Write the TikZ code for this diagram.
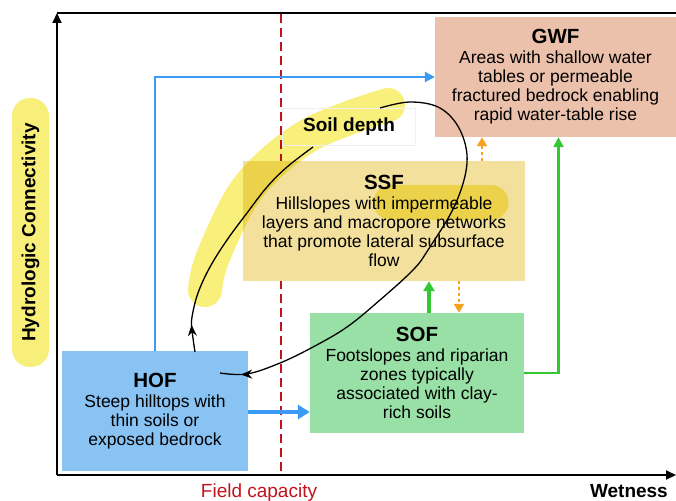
\documentclass[tikz,border=0pt]{standalone}
\usepackage{fontspec}
\setmainfont{Liberation Sans}
\usetikzlibrary{arrows.meta,decorations.markings,calc}
\definecolor{gwfc}{HTML}{EBC1AB}
\definecolor{ssfc}{HTML}{F2E09C}
\definecolor{sofc}{HTML}{98E0A5}
\definecolor{hofc}{HTML}{88C3F3}
\definecolor{blu}{HTML}{3A9AF4}
\definecolor{grn}{HTML}{33C833}
\definecolor{org}{HTML}{F7A11F}
\definecolor{fcred}{HTML}{C0141C}
\definecolor{hly}{HTML}{F8F07A}
\definecolor{labely}{HTML}{F8EF7A}
\pgfdeclarelayer{bg}
\pgfdeclarelayer{hl}
\pgfsetlayers{bg,hl,main}
\newcommand\bodyfnt{\fontsize{17.5}{19}\selectfont}
\newcommand\ttlfnt{\fontsize{20.5}{22}\selectfont\bfseries}
\newcommand\lblfnt{\fontsize{19}{21}\selectfont}
\begin{document}
\begin{tikzpicture}[x=1pt,y=-1pt,
  flowbox/.style={rectangle, inner sep=0pt, align=center, font=\bodyfnt, minimum height=120pt},
  axisline/.style={black, line width=1.8pt},
  axtip/.style={-{Triangle[length=10pt,width=9pt]}},
  loopline/.style={black, line width=1.3pt},
  hlstroke/.style={hly, line cap=round, line join=round},
  dotarrow/.style={org, line width=2.5pt, dash pattern=on 3pt off 3pt, -{Triangle[length=9pt,width=10pt]}}
]
\useasboundingbox (0,0) rectangle (676,500);

% axes
\coordinate (O) at (57,475);
\coordinate (ytop) at (57,13);
\coordinate (tr) at (676,13);
\coordinate (xend) at (676,475);
\draw[axisline, axtip] (O) -- (ytop);
\draw[axisline] (ytop) -- (tr);
\draw[axisline, axtip] (O) -- (xend);

% field capacity
\coordinate (fctop) at (281,14);
\coordinate (fcbot) at (281,474);
\begin{pgfonlayer}{bg}
\draw[fcred, line width=2pt, dash pattern=on 9pt off 5pt] (fctop) -- (fcbot);
\end{pgfonlayer}
\node[text=fcred, font=\lblfnt, anchor=base, inner sep=0pt] (fc) at (259,497) {Field capacity};
\node[font=\lblfnt\bfseries, anchor=base east, inner sep=0pt] (wet) at (668,497) {Wetness};

% y label
\node[rotate=90, fill=labely, rounded corners=18pt, minimum width=269pt, minimum height=37pt, inner sep=0pt, font=\lblfnt\bfseries] (ylab) at (30.5,232.5) {Hydrologic Connectivity};

% boxes
\node[flowbox, minimum width=241pt] (gwf) at (555.5,77) {{\ttlfnt GWF}\\[1pt]Areas with shallow water\\tables or permeable\\fractured bedrock enabling\\rapid water-table rise};
\node[flowbox, minimum width=282pt] (ssf) at (384,221) {{\ttlfnt SSF}\\[1pt]Hillslopes with impermeable\\layers and macropore networks\\that promote lateral subsurface\\flow};
\node[flowbox, minimum width=214pt] (sof) at (417,373) {{\ttlfnt SOF}\\[1pt]Footslopes and riparian\\zones typically\\associated with clay-\\rich soils};
\node[flowbox, minimum width=186pt] (hof) at (155,411) {{\ttlfnt HOF}\\[1pt]Steep hilltops with\\thin soils or\\exposed bedrock};

\begin{pgfonlayer}{bg}
\fill[gwfc] (gwf.south west) rectangle (gwf.north east);
\fill[ssfc] (ssf.south west) rectangle (ssf.north east);
\fill[sofc] (sof.south west) rectangle (sof.north east);
\fill[hofc] (hof.south west) rectangle (hof.north east);
\end{pgfonlayer}

% yellow highlights
\begin{pgfonlayer}{hl}
\begin{scope}[blend mode=multiply]
\draw[hlstroke, line width=34pt] plot[smooth, tension=0.6] coordinates {(205,290) (210,265) (227,225) (243,195) (262,172) (287,150) (313,133) (341,121) (366,112) (388,105)};
\draw[hlstroke, line width=35pt] (391,202.5) -- (491,202.5);
\end{scope}
\end{pgfonlayer}

% soil depth label
\node[draw=black!6, line width=0.8pt, minimum width=133pt, minimum height=37pt, inner sep=0pt, font=\lblfnt\bfseries] (soil) at (349,126.5) {Soil depth};

% connectors
\draw[blu, line width=2pt, -{Triangle[length=10pt,width=10pt]}] (hof.north) |- (gwf.west);
\draw[blu, line width=4.5pt, -{Triangle[length=12pt,width=14pt]}] ([yshift=-1pt]hof.east) -- ([yshift=-1pt]sof.west |- hof.east);
\draw[grn, line width=3.5pt, -{Triangle[length=10pt,width=11pt]}] ([xshift=12pt]sof.north) -- ([xshift=12pt]sof.north |- ssf.south);
\draw[dotarrow] ([xshift=75pt]ssf.south) -- ([xshift=75pt]ssf.south |- sof.north);
\draw[dotarrow] ([xshift=98pt]ssf.north) -- ([xshift=98pt]ssf.north |- gwf.south);
\draw[grn, line width=2.5pt, -{Triangle[length=10pt,width=10pt]}] (sof.east) -| ([xshift=3pt]gwf.south);

% soil depth loop
\draw[loopline, postaction={decorate}, decoration={markings, mark=at position 0.11 with {\arrow{Stealth[length=11pt,width=9pt]}}}]
  plot[smooth, tension=0.6] coordinates {(195,352) (192,330) (192,317) (198,293) (210,267) (227,240) (247,213) (267,187) (287,167) (313,147)};
\draw[loopline, postaction={decorate}, decoration={markings, mark=at position 0.955 with {\arrow{Stealth[length=11pt,width=9pt]}}}]
  plot[smooth, tension=0.6] coordinates {(380,108) (410,102) (440,108) (460,130) (467,163) (455,205) (428,250) (413,270) (380,300) (347,327) (313,347) (280,363) (247,374) (220,373)};
\end{tikzpicture}
\end{document}
